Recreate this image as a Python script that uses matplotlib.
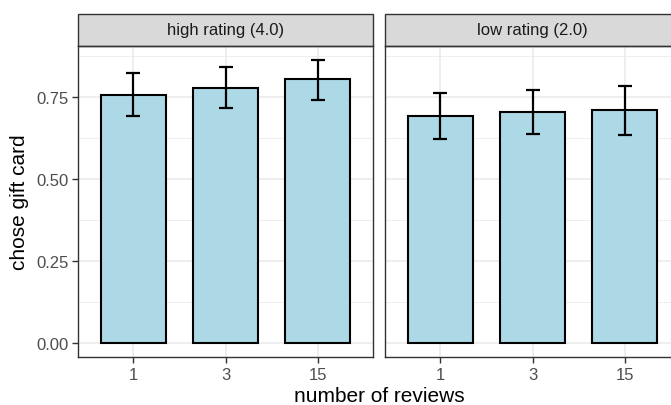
import matplotlib
matplotlib.use("Agg")
import matplotlib.pyplot as plt
from matplotlib.patches import Rectangle
import numpy as np

plt.rcParams['font.family'] = ['Liberation Sans', 'DejaVu Sans']

categories = ["1", "3", "15"]
panels = ["high rating (4.0)", "low rating (2.0)"]
means = {
    "high rating (4.0)": [0.757, 0.778, 0.803],
    "low rating (2.0)": [0.691, 0.704, 0.711],
}
upper = {
    "high rating (4.0)": [0.823, 0.842, 0.862],
    "low rating (2.0)": [0.761, 0.771, 0.784],
}
lower = {
    "high rating (4.0)": [0.691, 0.716, 0.740],
    "low rating (2.0)": [0.622, 0.638, 0.635],
}
yticks = [0.0, 0.25, 0.50, 0.75]
yticklabels = ["0.00", "0.25", "0.50", "0.75"]

W, H = 671, 406
fig = plt.figure(figsize=(W / 100, H / 100), dpi=100)

ymax = max(max(v) for v in upper.values())
ymin = 0.0
R = ymax - ymin
ylim = (ymin - 0.05 * R, ymax + 0.05 * R)

panel_x = [78, 385]
panel_w = 295
panel_top = 47
panel_bot = 358
strip_top = 15

for i, p in enumerate(panels):
    ax = fig.add_axes([panel_x[i] / W, (H - panel_bot) / H, panel_w / W, (panel_bot - panel_top) / H])
    x = np.arange(len(categories))
    m = np.array(means[p])
    up = np.array(upper[p])
    lo = np.array(lower[p])
    ax.bar(x, m, width=0.7, color="#ADD8E6", edgecolor="black", linewidth=1.5, zorder=3)
    ax.errorbar(x, m, yerr=[m - lo, up - m], fmt="none", ecolor="black",
                elinewidth=1.6, capsize=4.8, capthick=1.6, zorder=4)
    ax.set_xlim(-0.6, len(categories) - 1 + 0.6)
    ax.set_ylim(*ylim)
    ax.set_xticks(x)
    ax.set_xticklabels(categories)
    ax.set_yticks(yticks)
    ax.set_yticks([0.125, 0.375, 0.625, 0.875], minor=True)
    ax.tick_params(axis="both", which="major", colors="#333333", labelcolor="#4D4D4D",
                   labelsize=12, length=4, width=1.0, pad=3)
    if i == 0:
        ax.set_yticklabels(yticklabels)
    else:
        ax.tick_params(axis="y", which="major", length=0, labelleft=False)
    ax.tick_params(axis="y", which="minor", length=0)
    ax.grid(True, which="major", color="#EBEBEB", linewidth=1.2, zorder=0)
    ax.grid(True, which="minor", axis="y", color="#EBEBEB", linewidth=0.6, zorder=0)
    ax.set_axisbelow(True)
    for s in ax.spines.values():
        s.set_color("#333333")
        s.set_linewidth(1.0)
    strip_h = (panel_top - strip_top) / (panel_bot - panel_top)
    rect = Rectangle((0, 1), 1, strip_h, transform=ax.transAxes, facecolor="#D9D9D9",
                     edgecolor="#333333", linewidth=1.0, clip_on=False)
    ax.add_patch(rect)
    ax.text(0.5, 1 + strip_h / 2, p, transform=ax.transAxes, ha="center", va="center",
            fontsize=12, color="#1A1A1A")

fig.text((78 + 681) / 2 / W, 1 - 397 / H, "number of reviews", ha="center", va="center", fontsize=15)
fig.text(20 / W, 1 - ((panel_top + panel_bot) / 2) / H, "chose gift card", ha="center", va="center",
         rotation=90, fontsize=15)

fig.savefig("out.png", dpi=100)
